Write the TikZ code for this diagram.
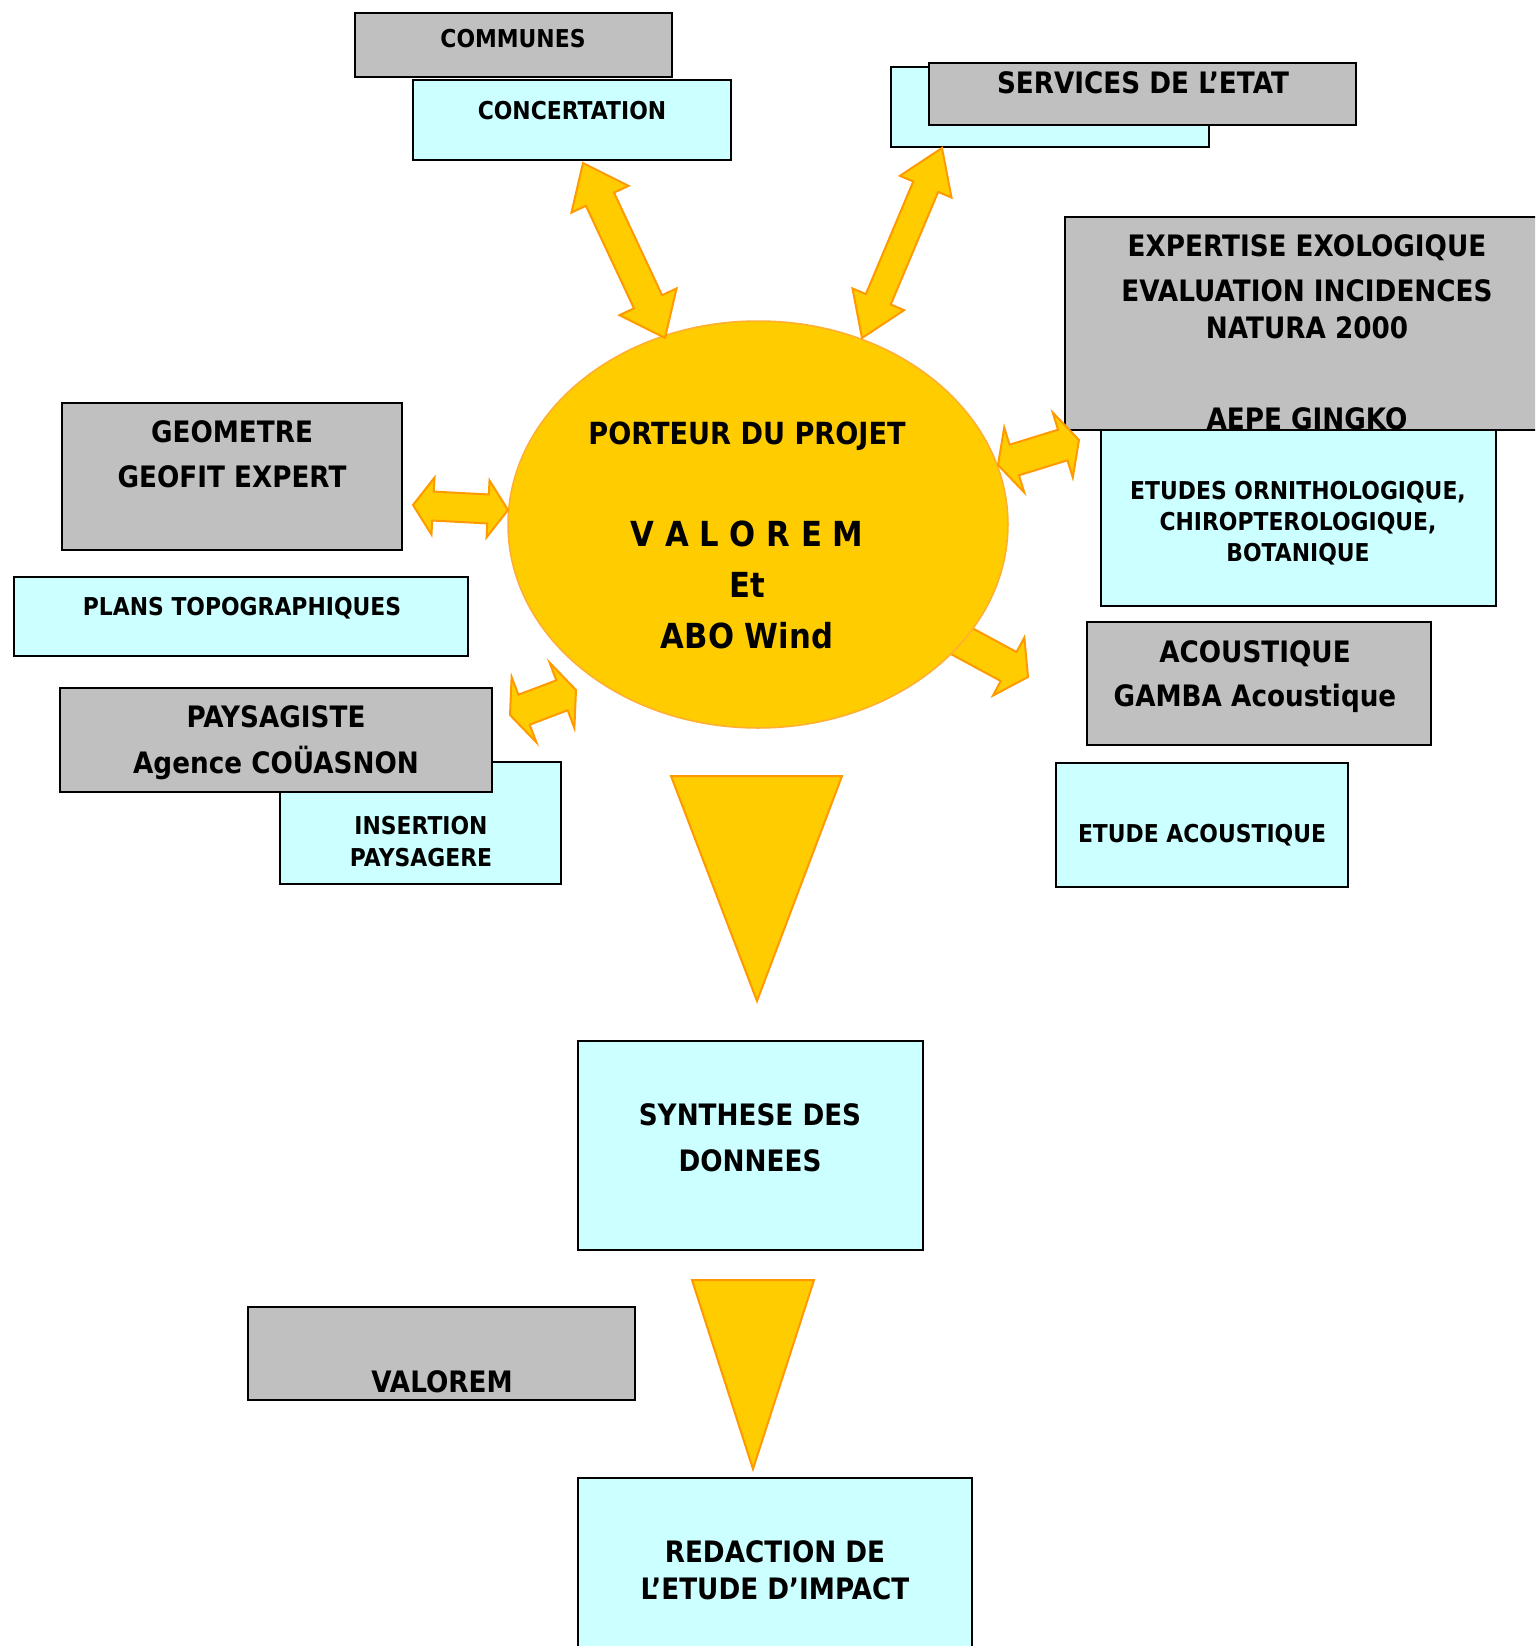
\documentclass[tikz,border=0pt]{standalone}
\usepackage{fontspec}
\setmainfont{DejaVu Sans}[FakeStretch=0.89]
\usetikzlibrary{calc,shapes.geometric}
\definecolor{boxgrey}{HTML}{C0C0C0}
\definecolor{boxcyan}{HTML}{CCFFFF}
\definecolor{sun}{HTML}{FFCC00}
\definecolor{sunline}{HTML}{FF9900}

% tip, tip, head length, half head width, half shaft width
\newcommand{\dblarrow}[5]{%
  \draw[barr] (#1) -- ($(#1)!#3!(#2)!#4!90:(#2)$) -- ($(#1)!#3!(#2)!#5!90:(#2)$)
    -- ($(#2)!#3!(#1)!#5!-90:(#1)$) -- ($(#2)!#3!(#1)!#4!-90:(#1)$) -- (#2)
    -- ($(#2)!#3!(#1)!#4!90:(#1)$) -- ($(#2)!#3!(#1)!#5!90:(#1)$)
    -- ($(#1)!#3!(#2)!#5!-90:(#2)$) -- ($(#1)!#3!(#2)!#4!-90:(#2)$) -- cycle;}
% tail, tip, head length, half head width, half shaft width
\newcommand{\sglarrow}[5]{%
  \draw[barr] ($(#1)!#5!90:(#2)$) -- ($(#2)!#3!(#1)!#5!-90:(#1)$)
    -- ($(#2)!#3!(#1)!#4!-90:(#1)$) -- (#2) -- ($(#2)!#3!(#1)!#4!90:(#1)$)
    -- ($(#2)!#3!(#1)!#5!90:(#1)$) -- ($(#1)!#5!-90:(#2)$) -- cycle;}

\begin{document}
\begin{tikzpicture}[
  x=1pt, y=-1pt,
  gbox/.style={draw=black, line width=2pt, fill=boxgrey, inner sep=0pt},
  cbox/.style={draw=black, line width=2pt, fill=boxcyan, inner sep=0pt},
  stxt/.style={font=\bfseries\fontsize{24.6}{31}\selectfont, align=center, inner sep=0pt, anchor=base},
  btxt/.style={font=\bfseries\fontsize{29.5}{45}\selectfont, align=center, inner sep=0pt, anchor=base},
  etxt/.style={font=\bfseries\fontsize{34.5}{51}\selectfont, align=center, inner sep=0pt, anchor=base},
  barr/.style={fill=sun, draw=sunline, line width=2pt, line join=miter},
]
\useasboundingbox (0,0) rectangle (1535,1646);
\clip (0,0) rectangle (1535,1646);

\node[gbox, minimum width=317, minimum height=64] (communes) at (513.5,45) {};
\node[stxt] (tcommunes) at (513,48) {COMMUNES};
\node[cbox, minimum width=318, minimum height=80] (concert) at (572,120) {};
\node[stxt] (tconcert) at (572,119) {CONCERTATION};

\node[cbox, minimum width=318, minimum height=80] (etatback) at (1050,107) {};
\node[gbox, minimum width=427, minimum height=62] (etat) at (1142,94) {};
\node[btxt] (tetat) at (1143,93) {SERVICES DE L’ETAT};

\node[gbox, minimum width=480, minimum height=213] (expert) at (1305,323.5) {};
\node[btxt] (texpert) at (1307,338) {EXPERTISE EXOLOGIQUE\\EVALUATION INCIDENCES\\[-8pt]NATURA 2000};
\node[btxt] (taepe) at (1307,429) {AEPE GINGKO};
\node[cbox, minimum width=395, minimum height=176] (ornitho) at (1298.5,518) {};
\node[stxt] (tornitho) at (1298,561) {ETUDES ORNITHOLOGIQUE,\\CHIROPTEROLOGIQUE,\\BOTANIQUE};

\node[gbox, minimum width=340, minimum height=147] (geometre) at (232,476.5) {};
\node[btxt] (tgeometre) at (232,487) {GEOMETRE\\GEOFIT EXPERT};
\node[cbox, minimum width=454, minimum height=79] (plans) at (241,616.5) {};
\node[stxt] (tplans) at (242,615) {PLANS TOPOGRAPHIQUES};

\node[cbox, minimum width=281, minimum height=122] (insertion) at (420.5,823) {};
\node[stxt] (tinsertion) at (421,866) {INSERTION\\[1pt]PAYSAGERE};
\node[gbox, minimum width=432, minimum height=104] (paysagiste) at (276,740) {};
\node[btxt] (tpaysagiste) at (276,773) {PAYSAGISTE\\[1pt]Agence COÜASNON};

\node[gbox, minimum width=344, minimum height=123] (acoustique) at (1259,683.5) {};
\node[btxt] (tacoustique) at (1255,706) {ACOUSTIQUE\\[-1pt]GAMBA Acoustique};
\node[cbox, minimum width=292, minimum height=124] (etudeac) at (1202,825) {};
\node[stxt] (tetudeac) at (1202,842) {ETUDE ACOUSTIQUE};

\node[cbox, minimum width=345, minimum height=209] (synthese) at (750.5,1145.5) {};
\node[btxt] (tsynthese) at (750,1171) {SYNTHESE DES\\[1pt]DONNEES};
\node[gbox, minimum width=387, minimum height=93] (valorem) at (441.5,1353.5) {};
\node[btxt] (tvalorem) at (442,1392) {VALOREM};
\node[cbox, minimum width=394, minimum height=188] (redaction) at (775,1572) {};
\node[btxt] (tredaction) at (775,1599) {REDACTION DE\\[-8pt]L’ETUDE D’IMPACT};

\coordinate (acouTail) at (930,624);
\coordinate (acouTip) at (1028,677);
\sglarrow{acouTail}{acouTip}{22pt}{33pt}{16.5pt}

\node[ellipse, fill=sun, draw=sunline!80, line width=1.5pt, minimum width=500, minimum height=407, inner sep=0pt] (porteur) at (758,524.5) {};
\node[font=\bfseries\fontsize{30.5}{40}\selectfont, inner sep=0pt, anchor=base] (tporteur) at (747,444) {PORTEUR DU PROJET};
\node[etxt] (tporteur2) at (747,648) {V A L O R E M\\Et\\ABO Wind};

\coordinate (concA) at (583,163);
\coordinate (concB) at (665,338);
\coordinate (servA) at (942,148);
\coordinate (servB) at (862,338);
\coordinate (geoA) at (413,505);
\coordinate (geoB) at (508,510);
\coordinate (paysA) at (510,715);
\coordinate (paysB) at (576,690);
\coordinate (expA) at (998,465);
\coordinate (expB) at (1079,440);
\dblarrow{concA}{concB}{40pt}{31.5pt}{15.5pt}
\dblarrow{servA}{servB}{42pt}{28pt}{13.5pt}
\dblarrow{geoA}{geoB}{20pt}{28.5pt}{14.5pt}
\dblarrow{paysA}{paysB}{15pt}{35pt}{16pt}
\dblarrow{expA}{expB}{17pt}{34pt}{16pt}

\coordinate (triA) at (671,776);
\coordinate (triB) at (842,776);
\coordinate (triC) at (757,1001);
\draw[barr] (triA) -- (triB) -- (triC) -- cycle;
\coordinate (triD) at (692,1280);
\coordinate (triE) at (814,1280);
\coordinate (triF) at (753,1469);
\draw[barr] (triD) -- (triE) -- (triF) -- cycle;

\end{tikzpicture}
\end{document}
